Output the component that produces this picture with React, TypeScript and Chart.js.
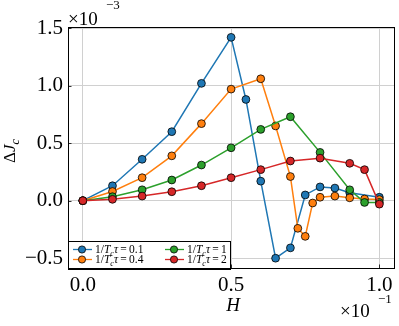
import React, { useEffect, useRef } from 'react';
import { Chart, registerables } from 'chart.js';
Chart.register(...registerables);

const seriesLabels = ['0.1', '0.4', '1', '2'];
const colors = ['#1f77b4', '#ff7f0e', '#2ca02c', '#d62728'];

const blueH = [0, 0.1, 0.2, 0.3, 0.4, 0.5, 0.55, 0.6, 0.65, 0.7, 0.75, 0.8, 0.85, 0.9, 1.0];
const blueJ = [0, 0.13, 0.36, 0.6, 1.02, 1.42, 0.88, 0.17, -0.5, -0.41, 0.05, 0.12, 0.11, 0.07, 0.03];
const orangeH = [0, 0.1, 0.2, 0.3, 0.4, 0.5, 0.6, 0.65, 0.7, 0.725, 0.75, 0.775, 0.8, 0.85, 0.9, 0.95, 1.0];
const orangeJ = [0, 0.08, 0.2, 0.39, 0.67, 0.97, 1.06, 0.65, 0.21, -0.24, -0.31, -0.02, 0.03, 0.04, 0.025, 0.015, 0.01];
const greenH = [0, 0.1, 0.2, 0.3, 0.4, 0.5, 0.6, 0.7, 0.8, 0.9, 0.95, 1.0];
const greenJ = [0, 0.035, 0.095, 0.18, 0.31, 0.46, 0.62, 0.73, 0.42, 0.095, -0.015, -0.015];
const redH = [0, 0.1, 0.2, 0.3, 0.4, 0.5, 0.6, 0.7, 0.8, 0.9, 0.95, 1.0];
const redJ = [0, 0.012, 0.04, 0.078, 0.13, 0.2, 0.27, 0.345, 0.37, 0.325, 0.27, -0.03];

const xTicks = [0, 0.5, 1.0];
const yTicks = [-0.5, 0, 0.5, 1.0, 1.5];

const SERIF = '"Liberation Serif", "Times New Roman", serif';

type Seg = { t: string; it?: boolean; sub?: boolean; sup?: boolean };

function drawMath(ctx: CanvasRenderingContext2D, segs: Seg[], x: number, y: number, size: number) {
  let cx = x;
  for (const s of segs) {
    const fs = s.sub || s.sup ? size * 0.7 : size;
    ctx.font = `${s.it ? 'italic ' : ''}${fs}px ${SERIF}`;
    const dy = s.sub ? size * 0.22 : s.sup ? -size * 0.42 : 0;
    ctx.fillText(s.t, cx, y + dy);
    cx += ctx.measureText(s.t).width;
  }
  return cx - x;
}

function fmt(v: number) {
  const s = Math.abs(v).toFixed(1);
  return v < 0 ? '\u2212' + s : s;
}

const decorPlugin = {
  id: 'decor',
  afterDatasetsDraw(chart: any) {
    const ctx: CanvasRenderingContext2D = chart.ctx;
    const { left, right, top, bottom } = chart.chartArea;
    const xs = chart.scales.x;
    const ys = chart.scales.y;
    ctx.save();
    // inward ticks
    ctx.strokeStyle = '#000';
    ctx.lineWidth = 0.8;
    ctx.beginPath();
    for (const v of xTicks) {
      const px = Math.round(xs.getPixelForValue(v)) + 0.5;
      ctx.moveTo(px, bottom);
      ctx.lineTo(px, bottom - 3.5);
    }
    for (const v of yTicks) {
      const py = Math.round(ys.getPixelForValue(v)) + 0.5;
      ctx.moveTo(left, py);
      ctx.lineTo(left + 3.5, py);
    }
    ctx.stroke();

    // legend
    const lx = left, ly = 241.5, lw = 162, lh = 28;
    ctx.fillStyle = '#fff';
    ctx.fillRect(lx, ly, lw, lh);
    ctx.strokeStyle = '#000';
    ctx.lineWidth = 1;
    ctx.strokeRect(lx + 0.5, ly, lw, lh);
    const colX = [73, 165];
    const rowY = [249.5, 259.5];
    for (let i = 0; i < 4; i++) {
      const c = Math.floor(i / 2), r = i % 2;
      const x0 = colX[c], y0 = rowY[r];
      ctx.strokeStyle = colors[i];
      ctx.lineWidth = 1.3;
      ctx.beginPath();
      ctx.moveTo(x0, y0);
      ctx.lineTo(x0 + 19, y0);
      ctx.stroke();
      ctx.beginPath();
      ctx.arc(x0 + 9, y0, 3.6, 0, Math.PI * 2);
      ctx.fillStyle = colors[i];
      ctx.fill();
      ctx.strokeStyle = '#000';
      ctx.lineWidth = 0.8;
      ctx.stroke();
      ctx.fillStyle = '#000';
      ctx.textBaseline = 'alphabetic';
      ctx.textAlign = 'left';
      drawMath(ctx, [
        { t: '1/' }, { t: 'T', it: true }, { t: 'c', it: true, sub: true }, { t: '\u03c4', it: true },
        { t: '\u2009=\u2009' + seriesLabels[i] },
      ], x0 + 22, y0 + 3.8, 11.5);
    }

    // frame
    ctx.strokeStyle = '#000';
    ctx.lineWidth = 1;
    ctx.strokeRect(Math.round(left) + 0.5, Math.round(top) + 0.5, Math.round(right - left), Math.round(bottom - top));
    ctx.restore();
  },
  afterDraw(chart: any) {
    const ctx: CanvasRenderingContext2D = chart.ctx;
    ctx.save();
    ctx.fillStyle = '#000';
    ctx.textBaseline = 'alphabetic';
    ctx.textAlign = 'left';
    // offset texts
    drawMath(ctx, [{ t: '\u00d7' }, { t: '10' }], 68, 25, 19);
    ctx.font = `13px ${SERIF}`;
    ctx.fillText('\u22123', 106, 9);
    drawMath(ctx, [{ t: '\u00d7' }, { t: '10' }], 340, 317, 19);
    ctx.font = `13px ${SERIF}`;
    ctx.fillText('\u22121', 378, 303);
    // x title
    ctx.font = `italic 19px ${SERIF}`;
    ctx.textAlign = 'center';
    ctx.fillText('H', 233, 311);
    // y title
    ctx.translate(15, 163);
    ctx.rotate(-Math.PI / 2);
    ctx.textAlign = 'left';
    drawMath(ctx, [{ t: '\u0394' }, { t: 'J', it: true }, { t: 'c', it: true, sub: true }], 0, 0, 17);
    ctx.restore();
  },
};

function buildDataset(label: string, hs: number[], js: number[], color: string, order: number) {
  return {
    label,
    data: hs.map((h, i) => ({ x: h, y: js[i] })),
    showLine: true,
    borderColor: color,
    backgroundColor: color,
    borderWidth: 1.5,
    pointRadius: 3.9,
    pointBackgroundColor: color,
    pointBorderColor: '#000',
    pointBorderWidth: 0.8,
    order,
  };
}

export default function App() {
  const ref = useRef<HTMLCanvasElement | null>(null);
  useEffect(() => {
    if (!ref.current) return;
    const chart = new Chart(ref.current, {
      type: 'scatter',
      data: {
        datasets: [
          buildDataset(seriesLabels[0], blueH, blueJ, colors[0], 3),
          buildDataset(seriesLabels[1], orangeH, orangeJ, colors[1], 2),
          buildDataset(seriesLabels[2], greenH, greenJ, colors[2], 1),
          buildDataset(seriesLabels[3], redH, redJ, colors[3], 0),
        ],
      },
      options: {
        animation: false,
        responsive: false,
        devicePixelRatio: 1,
        layout: { padding: { left: 0, right: 4, top: 27, bottom: 0 } },
        plugins: { legend: { display: false }, tooltip: { enabled: false } },
        scales: {
          x: {
            type: 'linear',
            min: -0.05,
            max: 1.05,
            afterBuildTicks: (s: any) => { s.ticks = xTicks.map((v) => ({ value: v })); },
            afterFit: (s: any) => { s.height = 58; },
            ticks: {
              callback: (v: any) => fmt(Number(v)),
              font: { family: SERIF, size: 21 },
              color: '#000',
              padding: 5,
              maxRotation: 0,
              autoSkip: false,
            },
            grid: { color: '#d0d0d0', lineWidth: 1, drawTicks: false },
            border: { display: false },
          },
          y: {
            type: 'linear',
            min: -0.585,
            max: 1.51,
            afterBuildTicks: (s: any) => { s.ticks = yTicks.map((v) => ({ value: v })); },
            afterFit: (s: any) => { s.width = 68; },
            ticks: {
              callback: (v: any) => fmt(Number(v)),
              font: { family: SERIF, size: 21 },
              color: '#000',
              padding: 5,
              autoSkip: false,
            },
            grid: { color: '#d0d0d0', lineWidth: 1, drawTicks: false },
            border: { display: false },
          },
        },
      },
      plugins: [decorPlugin],
    });
    return () => chart.destroy();
  }, []);
  return (
    <div style={{ position: 'absolute', left: 0, top: 0, width: 399, height: 326 }}>
      <canvas ref={ref} width={399} height={326} style={{ width: 399, height: 326 }} />
    </div>
  );
}
